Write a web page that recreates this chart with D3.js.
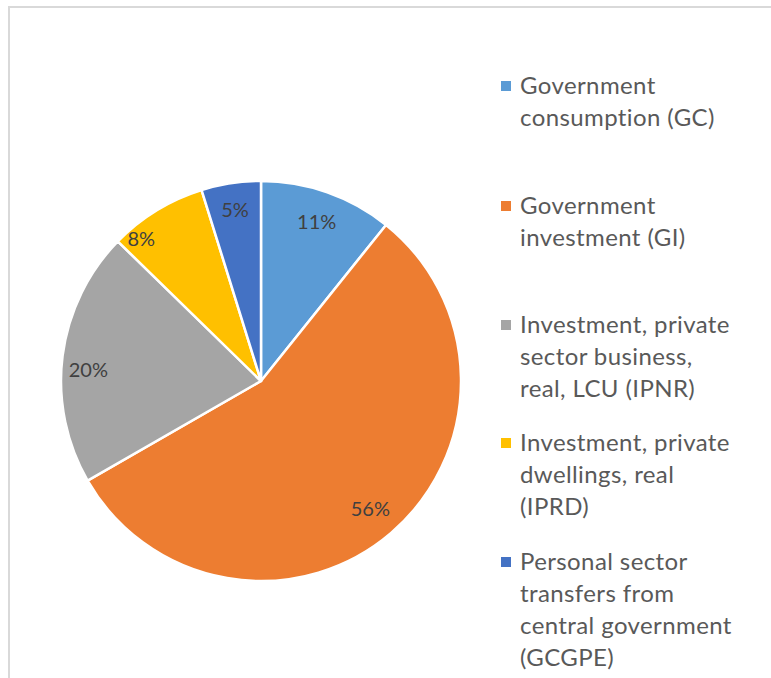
<!DOCTYPE html>
<html>
<head>
<meta charset="utf-8">
<script src="https://cdn.jsdelivr.net/npm/d3@7"></script>
<style>
  html, body { margin: 0; padding: 0; background: #fff; }
  svg { display: block; }
</style>
</head>
<body>
<svg id="chart" width="771" height="678"></svg>
<script>
const categories = [
  "Government consumption (GC)",
  "Government investment (GI)",
  "Investment, private sector business, real, LCU (IPNR)",
  "Investment, private dwellings, real (IPRD)",
  "Personal sector transfers from central government (GCGPE)"
];
const legendLines = [
  ["Government", "consumption (GC)"],
  ["Government", "investment (GI)"],
  ["Investment, private", "sector business,", "real, LCU (IPNR)"],
  ["Investment, private", "dwellings, real", "(IPRD)"],
  ["Personal sector", "transfers from", "central government", "(GCGPE)"]
];
const values = [10.75, 55.95, 20.6, 7.9, 4.8];
const labels = ["11%", "56%", "20%", "8%", "5%"];
const colors = ["#5B9BD5", "#ED7D31", "#A5A5A5", "#FFC000", "#4472C4"];

const svg = d3.select("#chart");
const font = "Lato, 'Open Sans', sans-serif";

// frame
svg.append("line").attr("x1", 9).attr("y1", 7).attr("x2", 771).attr("y2", 7)
  .attr("stroke", "#D9D9D9").attr("stroke-width", 2);
svg.append("line").attr("x1", 9).attr("y1", 6).attr("x2", 9).attr("y2", 678)
  .attr("stroke", "#D9D9D9").attr("stroke-width", 2);

const cx = 261, cy = 381, r = 200;
const pie = d3.pie().sort(null).value(d => d)(values);
const arc = d3.arc().innerRadius(0).outerRadius(r);
const g = svg.append("g").attr("transform", `translate(${cx},${cy})`);

g.selectAll("path").data(pie).join("path")
  .attr("d", arc)
  .attr("fill", (d, i) => colors[i])
  .attr("stroke", "#fff")
  .attr("stroke-width", 2.5)
  .attr("stroke-linejoin", "round");

// label placement (best-fit style): radial factor and angular nudge per slice
const labelRadius = [0.84, 0.84, 0.865, 0.93, 0.865];
const labelNudge = [0, 0, -0.06, -0.15, 0];
g.selectAll("text.lbl").data(pie).join("text")
  .attr("class", "lbl")
  .attr("transform", (d, i) => {
    const a = (d.startAngle + d.endAngle) / 2 + labelNudge[i];
    const rr = r * labelRadius[i];
    return `translate(${rr * Math.sin(a)},${-rr * Math.cos(a)})`;
  })
  .attr("text-anchor", "middle")
  .attr("dy", "0.35em")
  .attr("font-family", font)
  .attr("font-size", 20)
  .attr("fill", "#404040")
  .text((d, i) => labels[i]);

// legend
const legendTops = [86, 206, 325, 443, 562];
const lg = svg.append("g");
legendLines.forEach((lines, i) => {
  const y0 = legendTops[i];
  lg.append("rect").attr("x", 501).attr("y", y0 - 5).attr("width", 10).attr("height", 10)
    .attr("fill", colors[i]);
  const t = lg.append("text")
    .attr("font-family", font).attr("font-size", 24).attr("fill", "#595959")
    .attr("letter-spacing", 0.4);
  lines.forEach((ln, j) => {
    t.append("tspan").attr("x", 520).attr("y", y0 + j * 32).attr("dy", "0.35em").text(ln);
  });
});
</script>
</body>
</html>
